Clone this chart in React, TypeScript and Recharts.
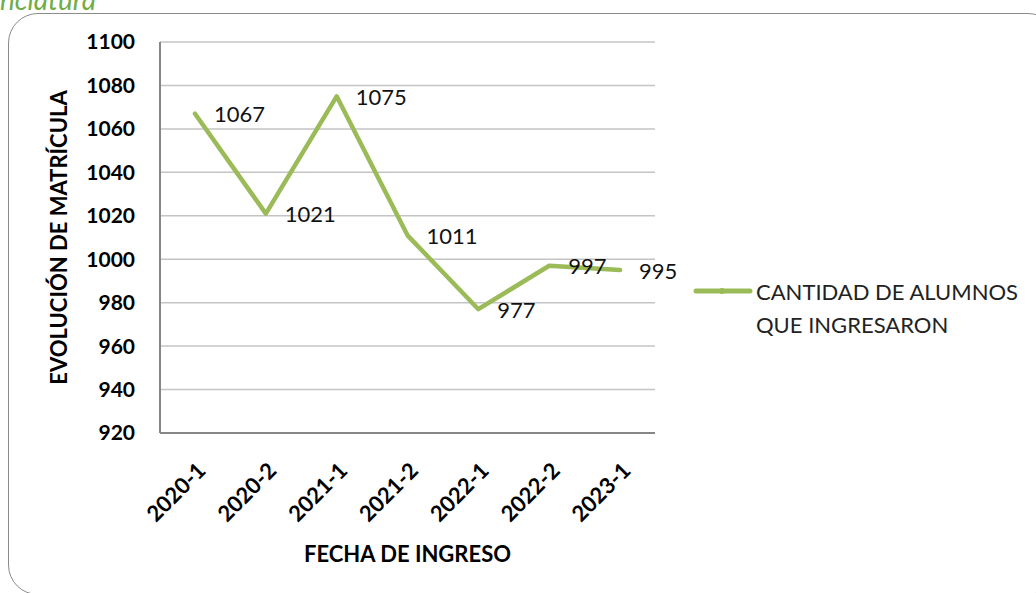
import { CartesianGrid, LabelList, Legend, Line, LineChart, XAxis, YAxis } from "recharts";

const periods = ["2020-1", "2020-2", "2021-1", "2021-2", "2022-1", "2022-2", "2023-1"];
const students = [1067, 1021, 1075, 1011, 977, 997, 995];
const yTicks = [920, 940, 960, 980, 1000, 1020, 1040, 1060, 1080, 1100];
const seriesName = "CANTIDAD DE ALUMNOS QUE INGRESARON";

const data = periods.map((period, i) => ({ period, students: students[i] }));

const GREEN = "#9bbb59";
const FONT = "Lato, 'Open Sans', sans-serif";

function PeriodTick({ x, y, payload }: any) {
  const ax = x + 12;
  return (
    <text
      x={ax}
      y={y}
      transform={`rotate(-45 ${ax} ${y})`}
      textAnchor="end"
      fontFamily={FONT}
      fontWeight={700}
      fontSize={22}
      fill="#000"
    >
      {payload.value}
    </text>
  );
}

function ValueLabel({ x, y, value }: any) {
  return (
    <text x={x + 19} y={y} dominantBaseline="central" fontFamily={FONT} fontSize={22} fill="#111">
      {value}
    </text>
  );
}

function SeriesLegend() {
  return (
    <div style={{ display: "flex", alignItems: "flex-start", fontFamily: FONT, fontSize: 22, color: "#222" }}>
      <svg width={66} height={32} style={{ flex: "none" }}>
        <line x1={6} y1={15} x2={60} y2={15} stroke={GREEN} strokeWidth={5} strokeLinecap="round" />
        <circle cx={32} cy={15} r={3} fill={GREEN} />
      </svg>
      <div style={{ lineHeight: "33px", width: 280, marginTop: -1 }}>
        CANTIDAD DE ALUMNOS
        <br />
        QUE INGRESARON
      </div>
    </div>
  );
}

export default function App() {
  return (
    <div style={{ position: "absolute", left: 0, top: 0, width: 1036, height: 593, background: "#fff", overflow: "hidden" }}>
      <svg width={200} height={20} style={{ position: "absolute", left: 0, top: 0 }}>
        <text x={96} y={10} textAnchor="end" fontFamily={FONT} fontStyle="italic" fontSize={28} fill="#70ad47">
          Nomenclatura
        </text>
      </svg>
      <div
        style={{
          position: "absolute",
          left: 8,
          top: 13,
          width: 1050,
          height: 582,
          border: "1.5px solid #8a8a8a",
          borderRadius: 30,
          boxSizing: "border-box",
        }}
      />
      <div style={{ position: "absolute", left: 0, top: 0 }}>
        <LineChart width={1036} height={593} data={data} margin={{ top: 42, right: 381, bottom: 20, left: 8 }}>
          <CartesianGrid vertical={false} stroke="#c4c4c4" strokeWidth={1.5} />
          <XAxis
            dataKey="period"
            padding={{ left: 35, right: 35 }}
            height={140}
            tickLine={false}
            axisLine={{ stroke: "#868686", strokeWidth: 2 }}
            tickSize={6}
            tickMargin={33}
            tick={<PeriodTick />}
            interval={0}
            label={{
              value: "FECHA DE INGRESO",
              position: "insideBottom",
              offset: 11,
              style: { fontFamily: FONT, fontWeight: 700, fontSize: 22, fill: "#000" },
            }}
          />
          <YAxis
            domain={[920, 1100]}
            ticks={yTicks}
            width={152}
            tickLine={false}
            axisLine={{ stroke: "#868686", strokeWidth: 2 }}
            tickSize={6}
            tickMargin={19}
            tick={{ fontFamily: FONT, fontWeight: 700, fontSize: 21, fill: "#000" }}
            label={{
              value: "EVOLUCIÓN DE MATRÍCULA",
              angle: -90,
              position: "insideLeft",
              offset: 51,
              style: { textAnchor: "middle", fontFamily: FONT, fontWeight: 700, fontSize: 22, fill: "#000" },
            }}
          />
          <Legend
            layout="vertical"
            align="center"
            verticalAlign="middle"
            wrapperStyle={{ left: 690, top: 276, width: 345 }}
            content={<SeriesLegend />}
          />
          <Line
            type="linear"
            dataKey="students"
            name={seriesName}
            stroke={GREEN}
            strokeWidth={4.5}
            strokeLinecap="round"
            strokeLinejoin="round"
            dot={false}
            activeDot={false}
            isAnimationActive={false}
          >
            <LabelList dataKey="students" content={<ValueLabel />} />
          </Line>
        </LineChart>
      </div>
    </div>
  );
}
